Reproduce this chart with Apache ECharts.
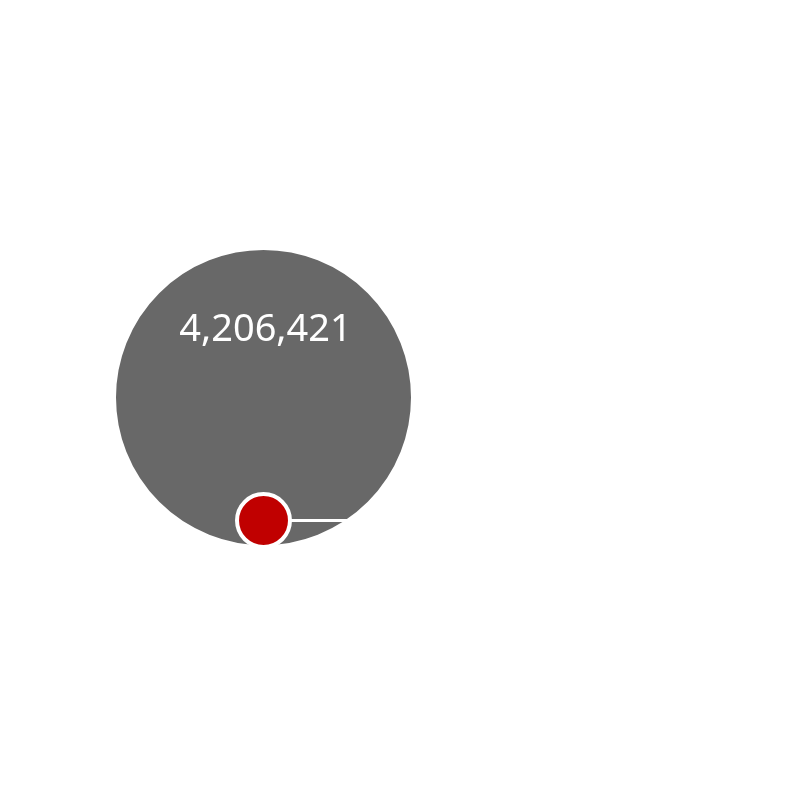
<!DOCTYPE html>
<html>
<head>
<meta charset="utf-8">
<script src="https://cdn.jsdelivr.net/npm/echarts@6/dist/echarts.min.js"></script>
<style>
  html, body { margin: 0; padding: 0; background: #fff; }
  #main { width: 800px; height: 800px; }
</style>
</head>
<body>
<div id="main"></div>
<script>
// 数据
var names = ['Total', 'Selected'];
var values = [4206421, 132000];
var colors = ['#686868', '#c00000'];

var chart = echarts.init(document.getElementById('main'));
var maxV = Math.max.apply(null, values);

function fmt(v) {
    return v.toString().replace(/\B(?=(\d{3})+(?!\d))/g, ',');
}

var option = {
    backgroundColor: '#ffffff',
    animation: false,
    grid: { left: 114, top: 248, width: 299, height: 299 },
    xAxis: { type: 'value', min: -1, max: 1, show: false },
    yAxis: { type: 'value', min: 0, max: 1, show: false },
    series: [
        {
            type: 'custom',
            silent: true,
            data: values.map(function (v, i) { return [i, v]; }),
            renderItem: function (params, api) {
                var idx = api.value(0);
                var v = api.value(1);
                var base = api.coord([0, 0]);
                var rMax = api.size([0, 1])[1] / 2;
                var r = rMax * Math.sqrt(v / maxV);
                var cx = base[0], cy = base[1] - r;
                var children = [{
                    type: 'circle',
                    shape: { cx: cx, cy: cy, r: r },
                    style: { fill: colors[idx], stroke: '#ffffff', lineWidth: 4 }
                }];
                if (idx === 0) {
                    // 大圆内的数值
                    children.push({
                        type: 'text',
                        style: {
                            x: cx + 2, y: cy - r * 0.32,
                            text: fmt(v),
                            fill: '#ffffff',
                            font: '38px "Noto Sans"',
                            align: 'center',
                            verticalAlign: 'bottom'
                        }
                    });
                    children.push({
                        type: 'text',
                        style: {
                            x: cx + 162, y: cy - r * 0.62,
                            text: names[idx] + ': ' + fmt(v),
                            fill: '#ffffff',
                            font: '16px "Noto Sans"',
                            align: 'left',
                            verticalAlign: 'middle'
                        }
                    });
                } else {
                    // 小圆引线
                    children.push({
                        type: 'line',
                        shape: { x1: cx + r, y1: cy, x2: cx + 167, y2: cy },
                        style: { stroke: '#ffffff', lineWidth: 3 }
                    });
                    children.push({
                        type: 'text',
                        style: {
                            x: cx + 177, y: cy - 8,
                            text: names[idx] + ': ' + fmt(v),
                            fill: '#ffffff',
                            font: '16px "Noto Sans"',
                            align: 'left',
                            verticalAlign: 'middle'
                        }
                    });
                }
                return { type: 'group', children: children };
            }
        }
    ]
};
chart.setOption(option);
</script>
</body>
</html>
